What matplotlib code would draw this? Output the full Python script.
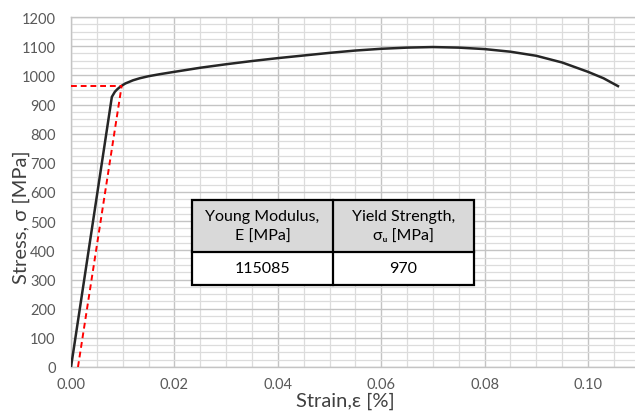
import matplotlib
matplotlib.use("Agg")
import matplotlib.pyplot as plt
from matplotlib.ticker import MultipleLocator
from matplotlib.patches import Rectangle

plt.rcParams['font.family'] = ['Lato', 'DejaVu Sans']

# Stress-strain curve
strain = [0, 0.0079, 0.0085, 0.009, 0.0096, 0.0105, 0.012, 0.0133, 0.015, 0.0172,
          0.02, 0.025, 0.03, 0.035, 0.04, 0.045, 0.05, 0.055, 0.06, 0.065, 0.07,
          0.075, 0.08, 0.085, 0.09, 0.095, 0.1, 0.103, 0.1058]
stress = [0, 926, 944, 953, 962, 972, 983, 990, 997, 1004,
          1012, 1026, 1038, 1049, 1059, 1068, 1077, 1085, 1091, 1095, 1097,
          1095, 1090, 1081, 1067, 1044, 1012, 990, 963]

# Offset (yield) construction lines
offset_strain = [0.00135, 0.0098]
offset_stress = [0, 964]
yield_strain = [0, 0.0098]
yield_stress = [964, 964]

# Table
header_line1 = ["Young Modulus,", "Yield Strength,"]
header_line2 = ["E [MPa]", "σᵤ [MPa]"]
table_values = ["115085", "970"]

xticks = [0.00, 0.02, 0.04, 0.06, 0.08, 0.10]
yticks = list(range(0, 1201, 100))

W, H = 635, 414
fig = plt.figure(figsize=(W / 100, H / 100), dpi=100)
ax = fig.add_axes([71 / W, 1 - 368 / H, 568.7 / W, 350 / H])

ax.plot(strain, stress, color='#262626', lw=1.8, solid_joinstyle='round', zorder=3)
ax.plot(offset_strain, offset_stress, color='#ff0000', lw=1.4, ls=(0, (3, 2)), zorder=4)
ax.plot(yield_strain, yield_stress, color='#ff0000', lw=1.4, ls=(0, (3, 2)), zorder=4)

ax.set_xlim(0, 0.11)
ax.set_ylim(0, 1200)
ax.set_xticks(xticks)
ax.set_xticklabels([f"{v:.2f}" for v in xticks])
ax.set_yticks(yticks)
ax.xaxis.set_minor_locator(MultipleLocator(0.005))
ax.yaxis.set_minor_locator(MultipleLocator(25))
ax.grid(which='major', color='#c4c4c4', lw=1.0, zorder=0)
ax.grid(which='minor', color='#dcdcdc', lw=0.9, zorder=0)
ax.set_axisbelow(True)
for s in ax.spines.values():
    s.set_color('#c4c4c4')
    s.set_linewidth(1.0)
ax.spines['right'].set_visible(False)
ax.tick_params(which='both', length=0)
ax.tick_params(axis='y', pad=11, labelsize=10.5, labelcolor='#595959')
ax.tick_params(axis='x', pad=7, labelsize=10.5, labelcolor='#595959')

ax.set_xlabel("Strain,ε [%]", fontsize=14.5, color='#404040')
ax.set_ylabel("Stress, σ [MPa]", fontsize=14.5, color='#404040')
ax.xaxis.set_label_coords((345 - 71) / 568.7, (368 - 393) / 350)
ax.yaxis.set_label_coords((30 - 71) / 568.7, (368 - 217) / 350)

# table drawn in axes fraction coordinates
tl = (192 - 71) / 568.7
tr = (474 - 71) / 568.7
tm = (333 - 71) / 568.7
ttop = (368 - 201) / 350
tmid = (368 - 253) / 350
tbot = (368 - 286) / 350

ax.add_patch(Rectangle((tl, tmid), tr - tl, ttop - tmid, transform=ax.transAxes,
                       facecolor='#d9d9d9', edgecolor='none', zorder=5))
ax.add_patch(Rectangle((tl, tbot), tr - tl, tmid - tbot, transform=ax.transAxes,
                       facecolor='white', edgecolor='none', zorder=5))
ax.add_patch(Rectangle((tl, tbot), tr - tl, ttop - tbot, transform=ax.transAxes,
                       facecolor='none', edgecolor='black', lw=1.6, zorder=6))
ax.plot([tl, tr], [tmid, tmid], transform=ax.transAxes, color='black', lw=1.6, zorder=6)
ax.plot([tm, tm], [tbot, ttop], transform=ax.transAxes, color='black', lw=1.6, zorder=6)

centers = [(tl + tm) / 2, (tm + tr) / 2]
y1 = (368 - 217) / 350
y2 = (368 - 237) / 350
for cx, l1, l2, val in zip(centers, header_line1, header_line2, table_values):
    ax.text(cx, y1, l1, transform=ax.transAxes, ha='center', va='center',
            fontsize=11.5, color='black', zorder=7)
    ax.text(cx, y2, l2, transform=ax.transAxes, ha='center', va='center',
            fontsize=11.5, color='black', zorder=7)
    ax.text(cx, (tmid + tbot) / 2, val, transform=ax.transAxes, ha='center', va='center',
            fontsize=11.5, color='black', zorder=7)

fig.savefig("out.png", dpi=100)
